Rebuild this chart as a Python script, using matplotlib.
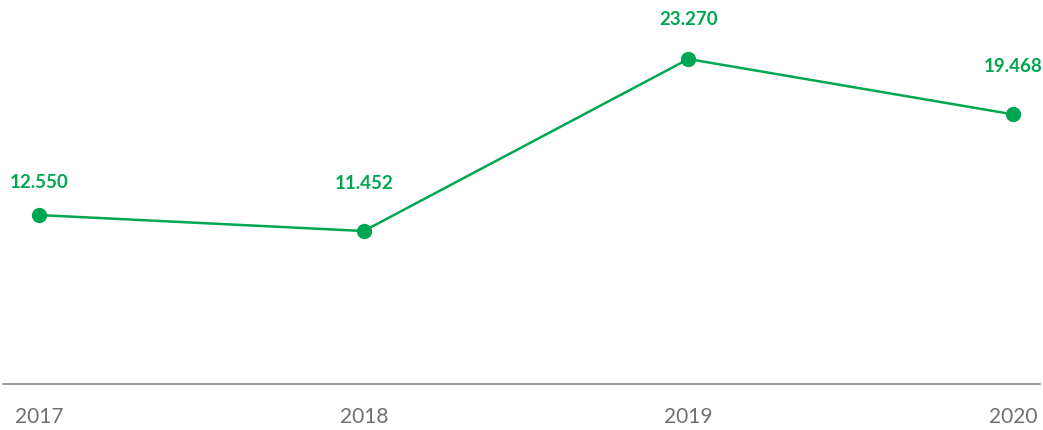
import matplotlib.pyplot as plt

# Yearly values
years = ["2017", "2018", "2019", "2020"]
values = [12550, 11452, 23270, 19468]
labels = ["12.550", "11.452", "23.270", "19.468"]

green = "#00a651"
grey = "#707070"

plt.rcParams['font.family'] = ['Lato', 'DejaVu Sans']

fig = plt.figure(figsize=(10.43, 4.31), dpi=100)
ax = fig.add_axes([3 / 1043, 46 / 431, 1037 / 1043, 385 / 431])

x = list(range(len(years)))
ax.plot(x, values, color=green, linewidth=1.8, marker="o", markersize=10,
        markeredgecolor=green, zorder=3)

# vertical gap between each point and its label, in points
label_gap = [18, 29, 23, 29]
for xi, v, lab, gap in zip(x, values, labels, label_gap):
    ax.annotate(lab, (xi, v), xytext=(0, gap), textcoords="offset points",
                ha="center", va="bottom", color=green, fontsize=13.5,
                fontweight="bold")

ax.set_xlim(-0.111, 3.083)
ax.set_ylim(941, 27395)

for s in ["top", "right", "left"]:
    ax.spines[s].set_visible(False)
ax.spines["bottom"].set_color("#8a8a8a")
ax.spines["bottom"].set_linewidth(1.2)

ax.set_yticks([])
ax.set_xticks(x)
ax.set_xticklabels(years, color=grey, fontsize=15)
ax.tick_params(axis="x", length=0, pad=16)

fig.savefig("out.png", dpi=100)
